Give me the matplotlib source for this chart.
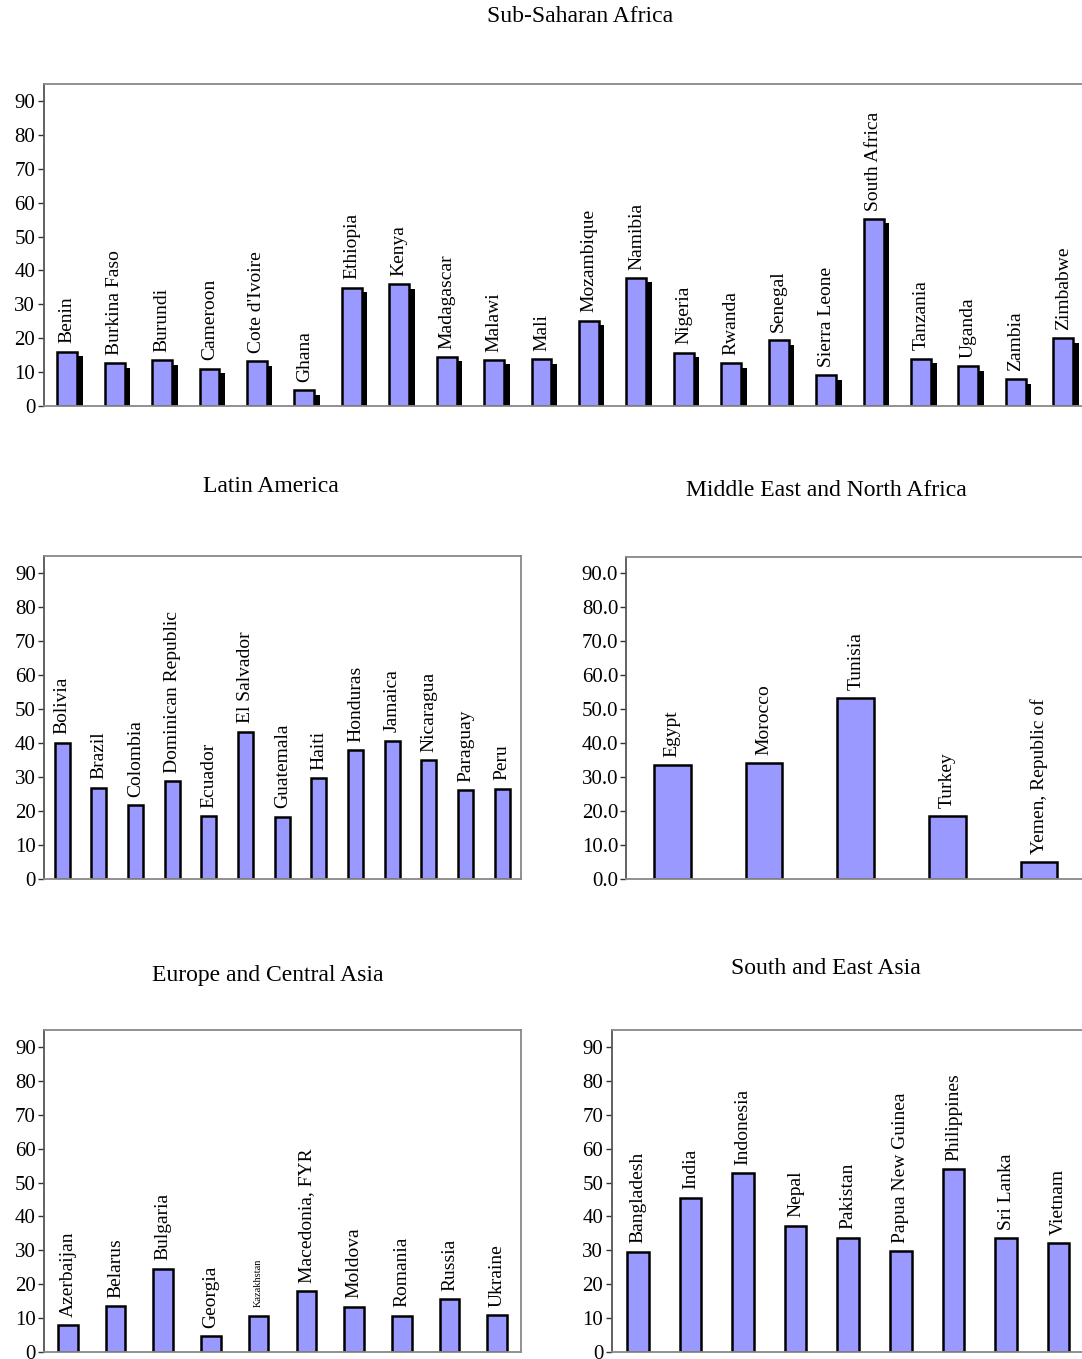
import matplotlib
matplotlib.use("Agg")
import matplotlib.pyplot as plt
import matplotlib.patheffects as pe
import numpy as np

plt.rcParams['font.family'] = ['Liberation Serif', 'DejaVu Serif']

# --- data ---
ssa_names = ["Benin", "Burkina Faso", "Burundi", "Cameroon", "Cote d'Ivoire", "Ghana",
             "Ethiopia", "Kenya", "Madagascar", "Malawi", "Mali", "Mozambique", "Namibia",
             "Nigeria", "Rwanda", "Senegal", "Sierra Leone", "South Africa", "Tanzania",
             "Uganda", "Zambia", "Zimbabwe"]
ssa_values = [16.0, 12.6, 13.5, 11.0, 13.3, 4.7, 34.9, 35.9, 14.5, 13.6, 13.8, 25.2, 37.8,
              15.7, 12.6, 19.4, 9.1, 55.2, 14.0, 11.8, 7.9, 20.0]

lat_names = ["Bolivia", "Brazil", "Colombia", "Dominican Republic", "Ecuador", "El Salvador",
             "Guatemala", "Haiti", "Honduras", "Jamaica", "Nicaragua", "Paraguay", "Peru"]
lat_values = [40.1, 26.9, 21.7, 28.8, 18.4, 43.3, 18.3, 29.7, 37.8, 40.7, 34.9, 26.1, 26.6]

mena_names = ["Egypt", "Morocco", "Tunisia", "Turkey", "Yemen, Republic of"]
mena_values = [33.6, 34.1, 53.3, 18.6, 4.9]

eca_names = ["Azerbaijan", "Belarus", "Bulgaria", "Georgia", "Kazakhstan", "Macedonia, FYR",
             "Moldova", "Romania", "Russia", "Ukraine"]
eca_values = [7.9, 13.6, 24.6, 4.7, 10.7, 18.0, 13.4, 10.7, 15.6, 10.9]

sea_names = ["Bangladesh", "India", "Indonesia", "Nepal", "Pakistan", "Papua New Guinea",
             "Philippines", "Sri Lanka", "Vietnam"]
sea_values = [29.6, 45.5, 52.8, 37.3, 33.7, 29.8, 53.9, 33.5, 32.2]

yticks = np.arange(0, 91, 10)

W, H = 1082, 1359
fig = plt.figure(figsize=(W / 100, H / 100), dpi=100)


def add_axes_px(left, right, top, bottom):
    return fig.add_axes([left / W, 1 - bottom / H, (right - left) / W, (bottom - top) / H])


def bar_panel(ax, names, values, width, shadow=False, fmt="{:.0f}", small=()):
    x = np.arange(len(names))
    bars = ax.bar(x, values, width=width, color="#9999ff", edgecolor="black", linewidth=1.8)
    if shadow:
        for b in bars:
            b.set_path_effects([pe.withSimplePatchShadow(offset=(4, -3.3),
                                                         shadow_rgbFace="black", alpha=1.0)])
    for i, (n, v) in enumerate(zip(names, values)):
        ax.annotate(n, (i, v), xytext=(0, 6), textcoords="offset points",
                    rotation=90, ha="center", va="bottom",
                    fontsize=7.5 if n in small else 14)
    ax.set_xlim(-0.5, len(names) - 0.5)
    ax.set_ylim(0, 95)
    ax.set_yticks(yticks)
    ax.set_yticklabels([fmt.format(t) for t in yticks])
    ax.set_xticks([])
    ax.tick_params(axis="y", direction="out", length=4, width=1, color="#333333",
                   labelsize=15, pad=2)
    for s in ("top", "right", "bottom"):
        ax.spines[s].set_color("#888888")
        ax.spines[s].set_linewidth(1.3)
    ax.spines["left"].set_color("#555555")
    ax.spines["left"].set_linewidth(1.3)


ax1 = add_axes_px(43.5, 1087, 84, 406)
bar_panel(ax1, ssa_names, ssa_values, 0.42, shadow=True)

ax2 = add_axes_px(44, 520.5, 556, 879)
bar_panel(ax2, lat_names, lat_values, 0.41)

ax3 = add_axes_px(626.5, 1085, 556.5, 879)
bar_panel(ax3, mena_names, mena_values, 0.40, fmt="{:.1f}")

ax4 = add_axes_px(44, 521, 1030, 1352)
bar_panel(ax4, eca_names, eca_values, 0.41, small=("Kazakhstan",))

ax5 = add_axes_px(611.5, 1085, 1030, 1352)
bar_panel(ax5, sea_names, sea_values, 0.41)

titles = [("Sub-Saharan Africa", 580, 16), ("Latin America", 271, 487),
          ("Middle East and North Africa", 826, 491), ("Europe and Central Asia", 268, 975),
          ("South and East Asia", 826, 969)]
for t, tx, ty in titles:
    fig.text(tx / W, 1 - ty / H, t, ha="center", va="center", fontsize=17)

fig.savefig("out.png", dpi=100)
